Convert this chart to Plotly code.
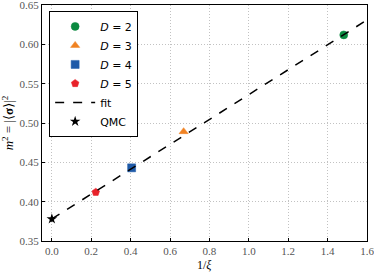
import plotly.graph_objects as go

# Data
labels = ["<i>D</i> = 2", "<i>D</i> = 3", "<i>D</i> = 4", "<i>D</i> = 5"]
inv_xi = [1.482, 0.669, 0.405, 0.223]
m2 = [0.612, 0.489, 0.443, 0.412]
colors = ["#0b8a40", "#f08222", "#1f5aa8", "#e8222a"]
symbols = ["circle", "triangle-up", "square", "pentagon"]

fit_x = [0.0, 1.6]
fit_y = [0.378, 0.631]

qmc_x = [0.0]
qmc_y = [0.378]
qmc_err = [0.004]

x_ticks = [0.0, 0.2, 0.4, 0.6, 0.8, 1.0, 1.2, 1.4, 1.6]
y_ticks = [0.35, 0.40, 0.45, 0.50, 0.55, 0.60, 0.65]

serif = "Liberation Serif, DejaVu Serif, serif"
sans = "DejaVu Sans, Liberation Sans, sans-serif"

fig = go.Figure()
for lab, x, y, c, s in zip(labels, inv_xi, m2, colors, symbols):
    fig.add_trace(go.Scatter(
        x=[x], y=[y], mode="markers", name=lab,
        marker=dict(color=c, symbol=s, size=8, line=dict(color=c, width=0.5)),
        legendrank=len(fig.data) + 1,
    ))

fig.add_trace(go.Scatter(
    x=fit_x, y=fit_y, mode="lines", name="fit",
    line=dict(color="black", dash="dash", width=1.5),
    legendrank=10,
))
fig.add_trace(go.Scatter(
    x=qmc_x, y=qmc_y, mode="markers", name="QMC",
    marker=dict(color="black", symbol="star", size=8),
    error_y=dict(type="data", array=qmc_err, color="black", thickness=1, width=0),
    legendrank=11,
))

axis_common = dict(
    showline=True, linecolor="black", linewidth=1.2, mirror=True,
    ticks="inside", ticklen=3, tickcolor="black",
    showgrid=True, gridcolor="#c2c2c2", griddash="1px,2px", gridwidth=1,
    zeroline=False, ticklabeloverflow="allow",
    tickfont=dict(family=serif, size=11, color="#555555"),
)

fig.update_xaxes(
    range=[-0.05, 1.6], tickvals=x_ticks,
    ticktext=[f"{v:.1f}" for v in x_ticks],
    **axis_common,
)
fig.update_yaxes(
    range=[0.35, 0.65], tickvals=y_ticks,
    ticktext=[f"{v:.2f}" for v in y_ticks],
    title=dict(text="<i>m</i><sup>2</sup> = |⟨<b>σ</b>⟩|<sup>2</sup>",
               font=dict(family=serif, size=13, color="black"), standoff=3),
    **axis_common,
)

fig.add_annotation(
    text="1/<i>ξ</i>", xref="paper", yref="paper", x=0.5, y=-0.103,
    xanchor="center", yanchor="middle", showarrow=False,
    font=dict(family=serif, size=12, color="black"),
)

fig.update_layout(
    width=374, height=273,
    margin=dict(l=42, r=7, t=5, b=32, autoexpand=False),
    plot_bgcolor="white", paper_bgcolor="white",
    legend=dict(
        x=0.022, y=0.975, xanchor="left", yanchor="top",
        bgcolor="white", bordercolor="black", borderwidth=1,
        font=dict(family=sans, size=11, color="black"),
        itemwidth=40, tracegroupgap=0,
    ),
)

fig.write_html("out.html", post_script="document.body.style.margin='0';",
               config={"displayModeBar": False})
